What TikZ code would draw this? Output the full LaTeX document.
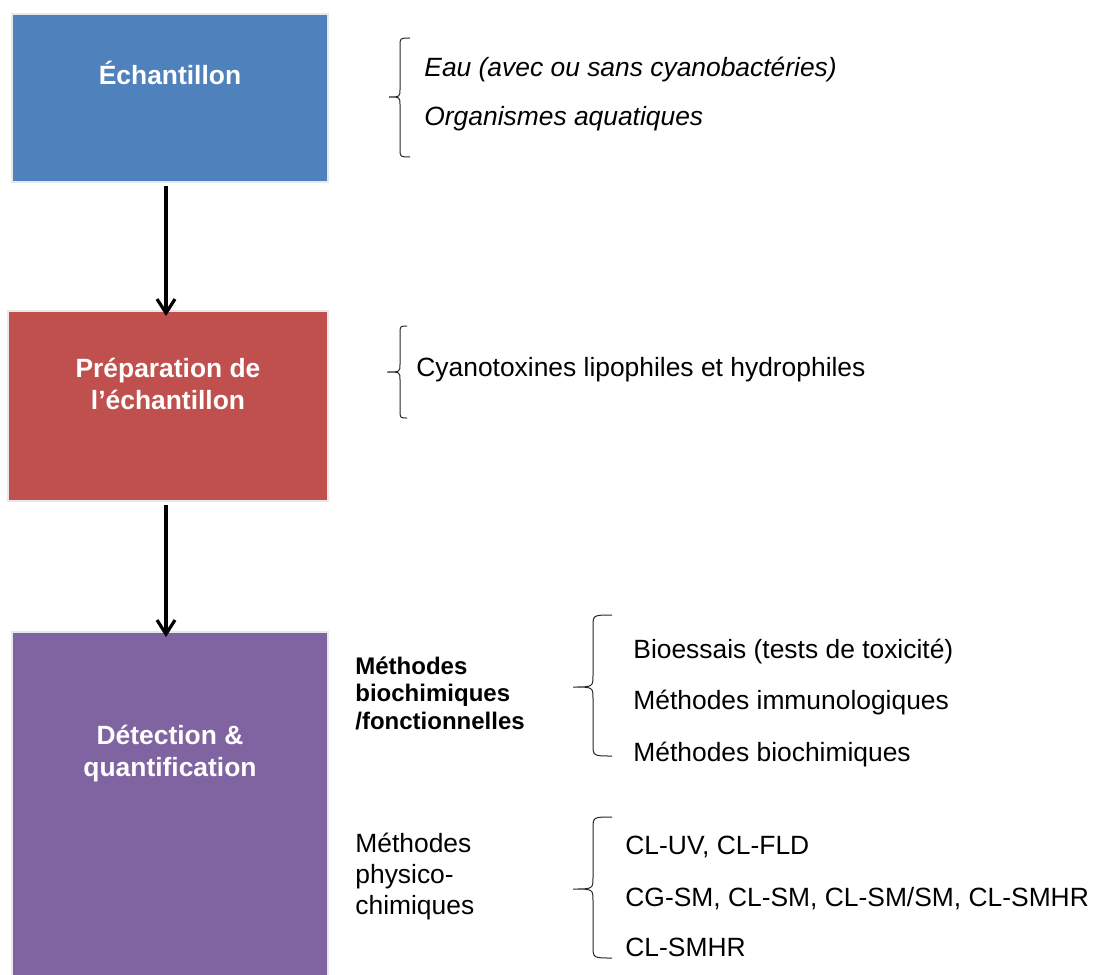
\documentclass[tikz,border=0pt]{standalone}
\usepackage{fontspec}
\setmainfont{Liberation Sans}
\usetikzlibrary{arrows.meta,positioning}
\definecolor{stageblue}{HTML}{4F81BD}
\definecolor{stagered}{HTML}{C0504D}
\definecolor{stagepurple}{HTML}{8064A2}
\definecolor{stageedge}{HTML}{E8E8E8}
% arm x, body x, tip x, top y, tip y, bottom y, hook
\newcommand\curlybrk[7]{%
  \draw[brc] (#1,#4) .. controls (#2,#4) .. (#2,#4+#7) -- (#2,#5-#7)
    .. controls (#2,#5) .. (#3,#5) .. controls (#2,#5) .. (#2,#5+#7)
    -- (#2,#6-#7) .. controls (#2,#6) .. (#1,#6);}

\begin{document}
\begin{tikzpicture}[
  x=0.5pt,y=-0.5pt,
  stage/.style={draw=stageedge,line width=1pt,minimum width=158pt,inner sep=0pt},
  stagetxt/.style={text=white,font=\fontsize{13.2}{16}\selectfont\bfseries,align=center},
  item/.style={anchor=base west,inner sep=0pt,font=\fontsize{13.2}{16}\selectfont},
  group/.style={anchor=west,inner sep=0pt,align=left},
  arr/.style={-{Straight Barb[length=7pt,width=9pt]},line width=1.6pt,
              shorten <=1.5pt,shorten >=-3pt},
  brc/.style={line width=0.5pt,draw=black!85}
]
\useasboundingbox (0,0) rectangle (1096,974);
\clip (0,0) rectangle (1096,974);

\node[stage,fill=stageblue,minimum height=84pt] (ech) at (170,98) {};
\node[stage,fill=stagered,minimum width=160pt,minimum height=95pt] (prep) at (168,406) {};
\node[stage,fill=stagepurple,minimum height=179pt] (det) at (170,811) {};

\node[stagetxt] (echT) at (170,73) {Échantillon};
\node[stagetxt] (prepT) at (168,384) {Préparation de\\l’échantillon};
\node[stagetxt] (detT) at (170,754) {Détection \&\\quantification};

\draw[arr] ([xshift=-2pt]ech.south) -- ([xshift=-2pt]ech.south |- prep.north);
\draw[arr] ([xshift=-2pt]ech.south |- prep.south) -- ([xshift=-2pt]ech.south |- det.north);

\curlybrk{410}{400}{389}{38}{97}{157}{8}
\node[item,font=\fontsize{13.2}{16}\selectfont\itshape] (eau) at (424,76) {Eau (avec ou sans cyanobactéries)};
\node[item,font=\fontsize{13.2}{16}\selectfont\itshape] (org) at (424,126) {Organismes aquatiques};

\curlybrk{407}{400}{387}{326}{372}{418}{8}
\node[item] (cyano) at (416,376) {Cyanotoxines lipophiles et hydrophiles};

\node[group,font=\fontsize{12}{13.75}\selectfont\bfseries] (bioch) at (355,693) {Méthodes\\biochimiques\\/fonctionnelles};
\curlybrk{612}{593}{573}{615}{687}{756}{12}
\node[item] (bioe) at (633,658) {Bioessais (tests de toxicité)};
\node[item] (immu) at (633,709) {Méthodes immunologiques};
\node[item] (bmet) at (633,761) {Méthodes biochimiques};

\node[group,font=\fontsize{13.2}{15.5}\selectfont] (phys) at (355,877) {Méthodes\\physico-\\chimiques};
\curlybrk{612}{593}{573}{817}{889}{958}{12}
\node[item] (cluv) at (625,854) {CL-UV, CL-FLD};
\node[item] (cgsm) at (625,906) {CG-SM, CL-SM, CL-SM/SM, CL-SMHR};
\node[item] (clhr) at (625,956) {CL-SMHR};
\end{tikzpicture}
\end{document}
